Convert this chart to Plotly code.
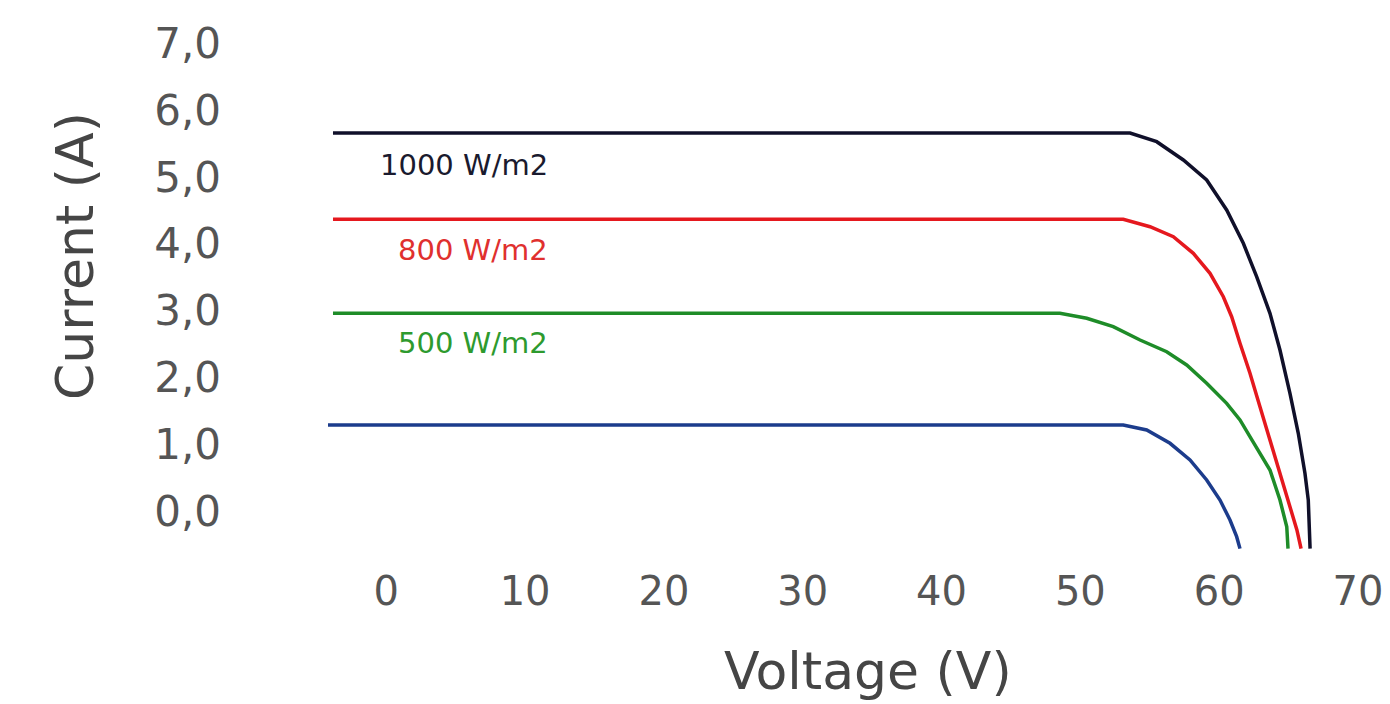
import plotly.graph_objects as go

# Voltage (V) / Current (A)
v_1000 = [-3.84, 53.58, 55.50, 57.42, 59.10, 60.54, 61.74, 62.70, 63.66, 64.38, 65.10, 65.70, 66.18, 66.42, 66.55]
i_1000 = [5.655, 5.655, 5.525, 5.252, 4.953, 4.504, 4.006, 3.507, 2.959, 2.410, 1.763, 1.165, 0.567, 0.167, -0.56]

v_800 = [-3.84, 53.09, 55.02, 56.70, 58.14, 59.34, 60.30, 60.90, 61.50, 62.22, 62.94, 63.66, 64.38, 65.10, 65.60, 65.90]
i_800 = [4.365, 4.365, 4.254, 4.105, 3.856, 3.557, 3.207, 2.908, 2.511, 2.062, 1.563, 1.065, 0.567, 0.067, -0.28, -0.56]

v_500 = [-3.84, 48.53, 50.46, 52.37, 54.30, 56.22, 57.66, 59.10, 60.54, 61.50, 62.40, 63.66, 64.38, 64.87, 64.96]
i_500 = [2.959, 2.959, 2.884, 2.759, 2.560, 2.385, 2.186, 1.913, 1.613, 1.364, 1.050, 0.616, 0.167, -0.232, -0.56]

v_low = [-4.2, 53.09, 54.78, 56.46, 57.90, 59.10, 60.06, 60.78, 61.26, 61.50]
i_low = [1.289, 1.289, 1.214, 1.015, 0.766, 0.467, 0.167, -0.132, -0.381, -0.56]

series = [
    ("1000 W/m2", v_1000, i_1000, "#10102a"),
    ("800 W/m2", v_800, i_800, "#e5181e"),
    ("500 W/m2", v_500, i_500, "#1e8c28"),
    ("", v_low, i_low, "#1c3c8c"),
]

label_names = ["1000 W/m2", "800 W/m2", "500 W/m2"]
label_v = [11.8, 11.8, 11.8]
label_i = [5.18, 3.90, 2.51]
label_colors = ["#1a1a2e", "#e0302e", "#2e9a2e"]

x_ticks = [0, 10, 20, 30, 40, 50, 60, 70]
y_ticks = [0, 1, 2, 3, 4, 5, 6, 7]
y_ticktext = ["0,0", "1,0", "2,0", "3,0", "4,0", "5,0", "6,0", "7,0"]

fig = go.Figure()
for name, v, i, c in series:
    fig.add_trace(go.Scatter(x=v, y=i, mode="lines", name=name,
                             line=dict(color=c, width=3.5),
                             showlegend=False, hoverinfo="skip"))

for t, xv, yv, c in zip(label_names, label_v, label_i, label_colors):
    fig.add_annotation(x=xv, y=yv, xref="x", yref="y", text=t, showarrow=False,
                       xanchor="right", yanchor="middle",
                       font=dict(family="DejaVu Sans", size=29, color=c))

fig.add_annotation(x=-0.23, y=0.5645, xref="paper", yref="paper", text="Current (A)",
                   showarrow=False, textangle=-90, xanchor="center", yanchor="middle",
                   font=dict(family="DejaVu Sans", size=52, color="#454545"))
fig.add_annotation(x=0.5146, y=-0.211, xref="paper", yref="paper", text="Voltage (V)",
                   showarrow=False, xanchor="center", yanchor="middle",
                   font=dict(family="DejaVu Sans", size=52, color="#454545"))

fig.update_layout(
    width=1382, height=696,
    margin=dict(l=312, r=5, t=15, b=146),
    paper_bgcolor="white", plot_bgcolor="white",
    xaxis=dict(range=[-4.776, 71.947], tickvals=x_ticks, showgrid=False, zeroline=False,
               showline=False, ticks="", ticklabelstandoff=6,
               tickfont=dict(family="DejaVu Sans", size=40, color="#555555")),
    yaxis=dict(range=[-0.7, 7.3], tickvals=y_ticks, ticktext=y_ticktext, showgrid=False,
               zeroline=False, showline=False, ticks="", ticklabelstandoff=98,
               tickfont=dict(family="DejaVu Sans", size=42, color="#555555")),
)

fig.write_html("out.html")
